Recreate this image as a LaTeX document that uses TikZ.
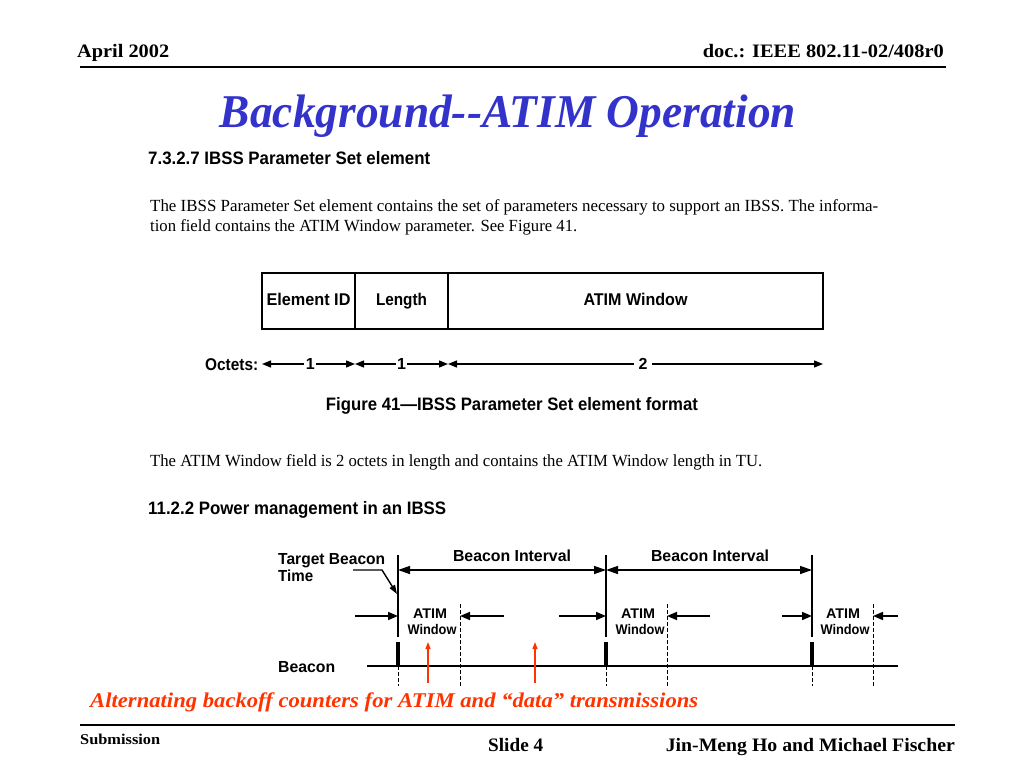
\documentclass[tikz,border=0pt]{standalone}
\usepackage{fontspec}
\setmainfont{Liberation Serif}
\setsansfont{Liberation Sans}
\usetikzlibrary{arrows.meta}
\definecolor{titleblue}{RGB}{51,51,204}
\definecolor{notered}{RGB}{255,51,0}
\newcommand\fitw[2]{\resizebox{#1}{\height}{#2}}
\newcommand\fs[1]{\fontsize{#1}{#1}\selectfont}
\begin{document}
\begin{tikzpicture}[x=1pt,y=-1pt,
  txt/.style={inner sep=0pt,anchor=base west},
  ctxt/.style={inner sep=0pt,anchor=base},
  cell/.style={draw,line width=1.6pt,minimum height=56pt,inner sep=0pt,text height=12pt,text depth=3pt,font=\sffamily\bfseries\fs{17}},
  oct/.style={line width=1.3pt,{Triangle[length=9pt,width=7pt]}-{Triangle[length=9pt,width=7pt]}},
  tarr/.style={line width=1.6pt,-{Triangle[length=10pt,width=8pt]}},
  tline/.style={line width=1.4pt},
  dline/.style={line width=0.9pt,dash pattern=on 4pt off 2pt},
  pulse/.style={line width=4pt},
  redarr/.style={draw=notered,line width=1.2pt,-{Triangle[length=7pt,width=5pt]}}]
\useasboundingbox[fill=white] (0,0) rectangle (1024,768);

% header
\node[txt] (hdate) at (77,57) {\fitw{92pt}{\fs{19}\bfseries April 2002}};
\node[inner sep=0pt,anchor=base east] (hdoc) at (944,57) {\fitw{241pt}{\fs{19}\bfseries doc.: IEEE 802.11-02/408r0}};
\coordinate (hl1) at (80,67); \coordinate (hl2) at (946,67);
\draw[line width=1.8pt] (hl1) -- (hl2);

% title
\node[ctxt,text=titleblue] (title) at (508,127) {\fitw{576pt}{\fs{47}\bfseries\itshape Background-{}-ATIM Operation}};

% section 7.3.2.7
\node[txt] (sec1) at (148,164) {\fitw{282pt}{\sffamily\bfseries\fs{18}7.3.2.7 IBSS Parameter Set element}};
\node[txt] (p1a) at (150,211) {\fitw{728pt}{\fs{17}The IBSS Parameter Set element contains the set of parameters necessary to support an IBSS. The informa-}};
\node[txt] (p1b) at (150,231) {\fitw{427pt}{\fs{17}tion field contains the ATIM Window parameter. See Figure 41.}};

% table
\node[cell,minimum width=93pt] (c1) at (308.5,301) {\fitw{84pt}{Element ID}};
\node[cell,minimum width=93pt] (c2) at (401.5,301) {\fitw{51pt}{Length}};
\node[cell,minimum width=375pt] (c3) at (635.5,301) {\fitw{104pt}{ATIM Window}};

% octets
\node[txt] (octl) at (205,370) {\fitw{53pt}{\sffamily\bfseries\fs{17}Octets:}};
\coordinate (o0) at (262,364); \coordinate (o1) at (355,364);
\coordinate (o2) at (448,364); \coordinate (o3) at (823,364);
\draw[oct] (o0) -- node[fill=white,inner sep=1.5pt,pos=0.52,font=\sffamily\bfseries\fs{16}] (n1) {1} (o1);
\draw[oct] (o1) -- node[fill=white,inner sep=1.5pt,pos=0.5,font=\sffamily\bfseries\fs{16}] (n2) {1} (o2);
\draw[oct] (o2) -- node[fill=white,inner sep=5pt,pos=0.52,font=\sffamily\bfseries\fs{16}] (n3) {2} (o3);
\node[ctxt] (fig41) at (512,410) {\fitw{372pt}{\sffamily\bfseries\fs{18}Figure 41---IBSS Parameter Set element format}};

\node[txt] (p2) at (150,466) {\fitw{612pt}{\fs{17}The ATIM Window field is 2 octets in length and contains the ATIM Window length in TU.}};
\node[txt] (sec2) at (148,514) {\fitw{298pt}{\sffamily\bfseries\fs{18}11.2.2 Power management in an IBSS}};

% timing diagram
\node[txt] (tbt1) at (278,564) {\fitw{107pt}{\sffamily\bfseries\fs{16}Target Beacon}};
\node[txt] (tbt2) at (278,581) {\fitw{35pt}{\sffamily\bfseries\fs{16}Time}};
\node[ctxt] (bi1) at (512,561) {\fitw{118pt}{\sffamily\bfseries\fs{16}Beacon Interval}};
\node[ctxt] (bi2) at (710,561) {\fitw{118pt}{\sffamily\bfseries\fs{16}Beacon Interval}};
\node[txt] (bcn) at (278,672) {\fitw{57pt}{\sffamily\bfseries\fs{16}Beacon}};

\foreach \i/\x/\w in {1/398/430, 2/606/638, 3/812/843}{
  \coordinate (vt\i) at (\x,555); \coordinate (vm\i) at (\x,637);
  \coordinate (pt\i) at (\x,642); \coordinate (pb\i) at (\x,666);
  \coordinate (vb\i) at (\x,686);
  \draw[tline] (vt\i) -- (vm\i);
  \draw[pulse] (pt\i) -- (pb\i);
  \draw[dline] (pb\i) -- (vb\i);
  \node[ctxt] (aw\i) at (\w,618) {\fitw{34pt}{\sffamily\bfseries\fs{14}ATIM}};
  \node[ctxt] (ww\i) at (\w+2,634) {\fitw{49pt}{\sffamily\bfseries\fs{14}Window}};
}
\foreach \i/\x in {1/460, 2/667, 3/873}{
  \coordinate (dt\i) at (\x,604); \coordinate (db\i) at (\x,686);
  \draw[dline] (dt\i) -- (db\i);
}
% baseline
\coordinate (bl0) at (367,666); \coordinate (bl1) at (898,666);
\draw[tline] (bl0) -- (bl1);

% beacon interval arrows
\coordinate (i1) at (398,570); \coordinate (i2) at (606,570); \coordinate (i3) at (812,570);
\draw[tline,{Triangle[length=12pt,width=8pt]}-{Triangle[length=12pt,width=8pt]}] (i1) -- (i2);
\draw[tline,{Triangle[length=12pt,width=8pt]}-{Triangle[length=12pt,width=8pt]}] (i2) -- (i3);

% target beacon leader
\coordinate (tl0) at (353,570); \coordinate (tl1) at (382,570); \coordinate (tl2) at (397,594);
\draw[line width=1.4pt,-{Triangle[length=9pt,width=6pt]}] (tl0) -- (tl1) -- (tl2);

% ATIM window bracket arrows
\coordinate (a1s) at (355,616); \coordinate (a1e) at (398,616);
\coordinate (a2s) at (504,616); \coordinate (a2e) at (460,616);
\coordinate (a3s) at (559,616); \coordinate (a3e) at (606,616);
\coordinate (a4s) at (710,616); \coordinate (a4e) at (667,616);
\coordinate (a5s) at (782,616); \coordinate (a5e) at (812,616);
\coordinate (a6s) at (898,616); \coordinate (a6e) at (873,616);
\foreach \k in {1,...,6}{\draw[tarr] (a\k s) -- (a\k e);}

% red arrows
\coordinate (r1s) at (428,683); \coordinate (r1e) at (428,642);
\coordinate (r2s) at (535,683); \coordinate (r2e) at (535,642);
\draw[redarr] (r1s) -- (r1e);
\draw[redarr] (r2s) -- (r2e);

\node[txt,text=notered] (note) at (90,707) {\fitw{608pt}{\fs{21}\bfseries\itshape Alternating backoff counters for ATIM and “data” transmissions}};

% footer
\coordinate (fl1) at (80,725); \coordinate (fl2) at (955,725);
\draw[line width=1.8pt] (fl1) -- (fl2);
\node[txt] (sub) at (80,744) {\fitw{80pt}{\fs{15}\bfseries Submission}};
\node[txt] (slide) at (488,751) {\fitw{55pt}{\fs{19}\bfseries Slide 4}};
\node[inner sep=0pt,anchor=base east] (auth) at (955,751) {\fitw{289pt}{\fs{19}\bfseries Jin-Meng Ho and Michael Fischer}};
\end{tikzpicture}
\end{document}
